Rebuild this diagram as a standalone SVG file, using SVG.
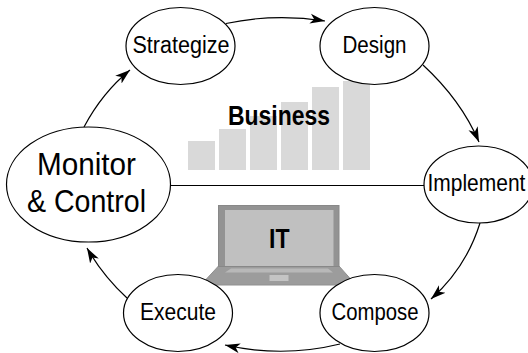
<svg xmlns="http://www.w3.org/2000/svg" width="528" height="353" viewBox="0 0 528 353">
<style>
text{font-family:"Liberation Sans",Arial,sans-serif;fill:#000;text-anchor:start}
.n{fill:#fff;stroke:#000;stroke-width:1.2}
.c{fill:none;stroke:#000;stroke-width:1.2}
.bar{fill:#d9d9d9}
.t{font-size:23.5px}
.b{font-size:27px;font-weight:bold}
.m{font-size:31px}
</style>
<defs>
<marker id="arrow" markerUnits="userSpaceOnUse" markerWidth="18" markerHeight="12" refX="15" refY="6" orient="auto">
<path d="M0,1 L15,6 L0,11 L4,6 Z" fill="#000"/>
</marker>
</defs>
<g id="business-chart">
<rect class="bar" x="188" y="141" width="27" height="29"/>
<rect class="bar" x="219" y="129" width="27" height="41"/>
<rect class="bar" x="250" y="116" width="27" height="54"/>
<rect class="bar" x="281" y="102" width="27" height="68"/>
<rect class="bar" x="312" y="87" width="27" height="83"/>
<rect class="bar" x="343" y="81" width="27" height="89"/>
</g>
<g id="business-label"><text class="b" x="228" y="125" textLength="102" lengthAdjust="spacingAndGlyphs">Business</text></g>
<g id="laptop">
<path d="M218.5,266 L206,279.5 L206,285 L351,285 L351,279.5 L339,266 Z" fill="#9c9c9c" stroke="#909090"/>
<rect x="218.5" y="205.5" width="120.5" height="61" fill="#939393" stroke="#888"/>
<rect x="225" y="210" width="108.5" height="56" fill="#c0c0c0"/>
<path d="M231,268.5 L328,268.5 L333,272.5 L225,272.5 Z" fill="#b8b8b8"/>
<rect x="269.5" y="275" width="19" height="6" fill="#c4c4c4"/>
<text class="b" x="269" y="248" textLength="20.5" lengthAdjust="spacingAndGlyphs">IT</text>
</g>
<g id="connectors">
<path class="c" d="M170,185.5 H424"/>
<path class="c" marker-end="url(#arrow)" d="M84,127 Q102,93 130,70"/>
<path class="c" marker-end="url(#arrow)" d="M226,23.5 Q275,13 325,21"/>
<path class="c" marker-end="url(#arrow)" d="M423,65 Q461,100 479,142"/>
<path class="c" marker-end="url(#arrow)" d="M480,223 Q466,268 431,299"/>
<path class="c" marker-end="url(#arrow)" d="M340,344 Q283,358 225,345"/>
<path class="c" marker-end="url(#arrow)" d="M127,298 Q103,276 87,248"/>
</g>
<g id="strategize"><ellipse class="n" cx="180.5" cy="46" rx="54.5" ry="38.5"/><text class="t" x="132.5" y="53" textLength="97" lengthAdjust="spacingAndGlyphs">Strategize</text></g>
<g id="design"><ellipse class="n" cx="374.5" cy="46" rx="54.5" ry="38.5"/><text class="t" x="342.5" y="53" textLength="64" lengthAdjust="spacingAndGlyphs">Design</text></g>
<g id="implement"><ellipse class="n" cx="478.5" cy="184.5" rx="54.5" ry="38.5"/><text class="t" transform="translate(427.5,191) scale(0.893,1)">Implement</text></g>
<g id="compose"><ellipse class="n" cx="374.5" cy="313" rx="54.5" ry="38.5"/><text class="t" x="331.5" y="320" textLength="87" lengthAdjust="spacingAndGlyphs">Compose</text></g>
<g id="execute"><ellipse class="n" cx="178" cy="313" rx="54.5" ry="38.5"/><text class="t" x="140" y="320" textLength="76" lengthAdjust="spacingAndGlyphs">Execute</text></g>
<g id="monitor"><ellipse class="n" cx="88.5" cy="184.5" rx="82" ry="57.5"/><text class="m" x="37" y="175" textLength="99" lengthAdjust="spacingAndGlyphs">Monitor</text><text class="m" x="27" y="212" textLength="119" lengthAdjust="spacingAndGlyphs">&amp; Control</text></g>
</svg>
